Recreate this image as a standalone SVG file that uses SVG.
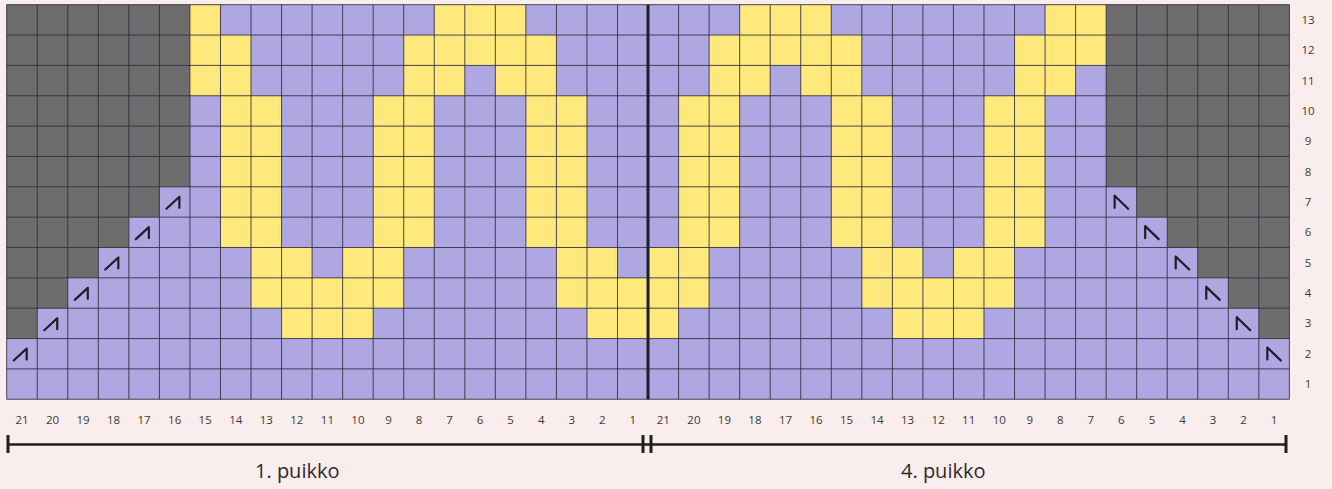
<svg xmlns="http://www.w3.org/2000/svg" xmlns:xlink="http://www.w3.org/1999/xlink" width="1332" height="489" viewBox="0 0 1332 489">
<style>
.p{fill:#AEA7E2}
.y{fill:#FFE97C}
.g{fill:#6D6D6D}
.gl{fill:none;stroke:#2E2C3C;stroke-width:1;stroke-opacity:0.85}
.sym{fill:none;stroke:#1E1E28;stroke-width:2.2;stroke-linecap:round;stroke-linejoin:round}
.num{font-family:"Open Sans","Liberation Sans",sans-serif;font-size:11.5px;fill:#3A3A3A;text-anchor:middle}
.lab{font-family:"Open Sans","Liberation Sans",sans-serif;font-size:20px;fill:#2A2A2A}
.br{stroke:#1E1E1E;fill:none}
</style>
<defs>
<path id="kL" class="sym" d="M7,22 L20,10 L20,21"/>
<path id="kR" class="sym" d="M8.5,9 L8.5,21 M8.5,9 L22,22"/>
</defs>
<rect width="1332" height="489" fill="#FAEDED"/>
<g id="chart">
<g transform="translate(6.7,4.7) scale(30.54,30.35)">
<rect class="p" x="0" y="0" width="42" height="13"/>
<g id="gray">
<rect class="g" x="0" y="0" width="6" height="6"/>
<rect class="g" x="0" y="6" width="5" height="1"/>
<rect class="g" x="0" y="7" width="4" height="1"/>
<rect class="g" x="0" y="8" width="3" height="1"/>
<rect class="g" x="0" y="9" width="2" height="1"/>
<rect class="g" x="0" y="10" width="1" height="1"/>
<rect class="g" x="36" y="0" width="6" height="6"/>
<rect class="g" x="37" y="6" width="5" height="1"/>
<rect class="g" x="38" y="7" width="4" height="1"/>
<rect class="g" x="39" y="8" width="3" height="1"/>
<rect class="g" x="40" y="9" width="2" height="1"/>
<rect class="g" x="41" y="10" width="1" height="1"/>
</g>
<g id="yellow">
<rect class="y" x="6" y="0" width="1" height="1"/>
<rect class="y" x="14" y="0" width="3" height="1"/>
<rect class="y" x="24" y="0" width="3" height="1"/>
<rect class="y" x="34" y="0" width="2" height="1"/>
<rect class="y" x="6" y="1" width="2" height="2"/>
<rect class="y" x="13" y="1" width="5" height="1"/>
<rect class="y" x="23" y="1" width="5" height="1"/>
<rect class="y" x="33" y="1" width="3" height="1"/>
<rect class="y" x="13" y="2" width="2" height="1"/>
<rect class="y" x="16" y="2" width="2" height="1"/>
<rect class="y" x="23" y="2" width="2" height="1"/>
<rect class="y" x="26" y="2" width="2" height="1"/>
<rect class="y" x="33" y="2" width="2" height="1"/>
<rect class="y" x="7" y="3" width="2" height="5"/>
<rect class="y" x="12" y="3" width="2" height="5"/>
<rect class="y" x="17" y="3" width="2" height="5"/>
<rect class="y" x="22" y="3" width="2" height="5"/>
<rect class="y" x="27" y="3" width="2" height="5"/>
<rect class="y" x="32" y="3" width="2" height="5"/>
<rect class="y" x="8" y="8" width="2" height="1"/>
<rect class="y" x="11" y="8" width="2" height="1"/>
<rect class="y" x="18" y="8" width="2" height="1"/>
<rect class="y" x="21" y="8" width="2" height="1"/>
<rect class="y" x="28" y="8" width="2" height="1"/>
<rect class="y" x="31" y="8" width="2" height="1"/>
<rect class="y" x="8" y="9" width="5" height="1"/>
<rect class="y" x="18" y="9" width="5" height="1"/>
<rect class="y" x="28" y="9" width="5" height="1"/>
<rect class="y" x="9" y="10" width="3" height="1"/>
<rect class="y" x="19" y="10" width="3" height="1"/>
<rect class="y" x="29" y="10" width="3" height="1"/>
</g>
<path class="gl" vector-effect="non-scaling-stroke" d="M0,0H42M0,1H42M0,2H42M0,3H42M0,4H42M0,5H42M0,6H42M0,7H42M0,8H42M0,9H42M0,10H42M0,11H42M0,12H42M0,13H42M0,0V13M1,0V13M2,0V13M3,0V13M4,0V13M5,0V13M6,0V13M7,0V13M8,0V13M9,0V13M10,0V13M11,0V13M12,0V13M13,0V13M14,0V13M15,0V13M16,0V13M17,0V13M18,0V13M19,0V13M20,0V13M22,0V13M23,0V13M24,0V13M25,0V13M26,0V13M27,0V13M28,0V13M29,0V13M30,0V13M31,0V13M32,0V13M33,0V13M34,0V13M35,0V13M36,0V13M37,0V13M38,0V13M39,0V13M40,0V13M41,0V13M42,0V13"/>
</g>
<line x1="648.04" y1="4.7" x2="648.04" y2="399.25" stroke="#1E1E28" stroke-width="3"/>
</g>
<g id="symbols">
<use xlink:href="#kL" x="159.4" y="186.8"/>
<use xlink:href="#kL" x="128.86" y="217.15"/>
<use xlink:href="#kL" x="98.32" y="247.5"/>
<use xlink:href="#kL" x="67.78" y="277.85"/>
<use xlink:href="#kL" x="37.24" y="308.2"/>
<use xlink:href="#kL" x="6.7" y="338.55"/>
<use xlink:href="#kR" x="1106.14" y="186.8"/>
<use xlink:href="#kR" x="1136.68" y="217.15"/>
<use xlink:href="#kR" x="1167.22" y="247.5"/>
<use xlink:href="#kR" x="1197.76" y="277.85"/>
<use xlink:href="#kR" x="1228.3" y="308.2"/>
<use xlink:href="#kR" x="1258.84" y="338.55"/>
</g>
<g id="row-numbers">
<text class="num" x="1308" y="24">13</text>
<text class="num" x="1308" y="54.3">12</text>
<text class="num" x="1308" y="84.7">11</text>
<text class="num" x="1308" y="115">10</text>
<text class="num" x="1308" y="145.4">9</text>
<text class="num" x="1308" y="175.7">8</text>
<text class="num" x="1308" y="206">7</text>
<text class="num" x="1308" y="236.4">6</text>
<text class="num" x="1308" y="266.7">5</text>
<text class="num" x="1308" y="297.1">4</text>
<text class="num" x="1308" y="327.4">3</text>
<text class="num" x="1308" y="357.8">2</text>
<text class="num" x="1308" y="388.1">1</text>
</g>
<g id="column-numbers">
<text class="num" x="22" y="424">21</text>
<text class="num" x="52.5" y="424">20</text>
<text class="num" x="83.1" y="424">19</text>
<text class="num" x="113.6" y="424">18</text>
<text class="num" x="144.1" y="424">17</text>
<text class="num" x="174.7" y="424">16</text>
<text class="num" x="205.2" y="424">15</text>
<text class="num" x="235.8" y="424">14</text>
<text class="num" x="266.3" y="424">13</text>
<text class="num" x="296.8" y="424">12</text>
<text class="num" x="327.4" y="424">11</text>
<text class="num" x="357.9" y="424">10</text>
<text class="num" x="388.5" y="424">9</text>
<text class="num" x="419" y="424">8</text>
<text class="num" x="449.5" y="424">7</text>
<text class="num" x="480.1" y="424">6</text>
<text class="num" x="510.6" y="424">5</text>
<text class="num" x="541.2" y="424">4</text>
<text class="num" x="571.7" y="424">3</text>
<text class="num" x="602.2" y="424">2</text>
<text class="num" x="632.8" y="424">1</text>
<text class="num" x="663.3" y="424">21</text>
<text class="num" x="693.9" y="424">20</text>
<text class="num" x="724.4" y="424">19</text>
<text class="num" x="754.9" y="424">18</text>
<text class="num" x="785.5" y="424">17</text>
<text class="num" x="816" y="424">16</text>
<text class="num" x="846.6" y="424">15</text>
<text class="num" x="877.1" y="424">14</text>
<text class="num" x="907.6" y="424">13</text>
<text class="num" x="938.2" y="424">12</text>
<text class="num" x="968.7" y="424">11</text>
<text class="num" x="999.3" y="424">10</text>
<text class="num" x="1029.8" y="424">9</text>
<text class="num" x="1060.3" y="424">8</text>
<text class="num" x="1090.9" y="424">7</text>
<text class="num" x="1121.4" y="424">6</text>
<text class="num" x="1152" y="424">5</text>
<text class="num" x="1182.5" y="424">4</text>
<text class="num" x="1213" y="424">3</text>
<text class="num" x="1243.6" y="424">2</text>
<text class="num" x="1274.1" y="424">1</text>
</g>
<g id="brackets">
<line class="br" x1="8" y1="444.5" x2="1286" y2="444.5" stroke-width="2.5"/>
<line class="br" x1="8" y1="435" x2="8" y2="453" stroke-width="3"/>
<line class="br" x1="643" y1="435" x2="643" y2="453" stroke-width="3"/>
<line class="br" x1="651" y1="435" x2="651" y2="453" stroke-width="3"/>
<line class="br" x1="1286" y1="435" x2="1286" y2="453" stroke-width="3"/>
</g>
<g id="labels">
<text class="lab" x="255" y="478">1. puikko</text>
<text class="lab" x="901" y="478">4. puikko</text>
</g>
</svg>
